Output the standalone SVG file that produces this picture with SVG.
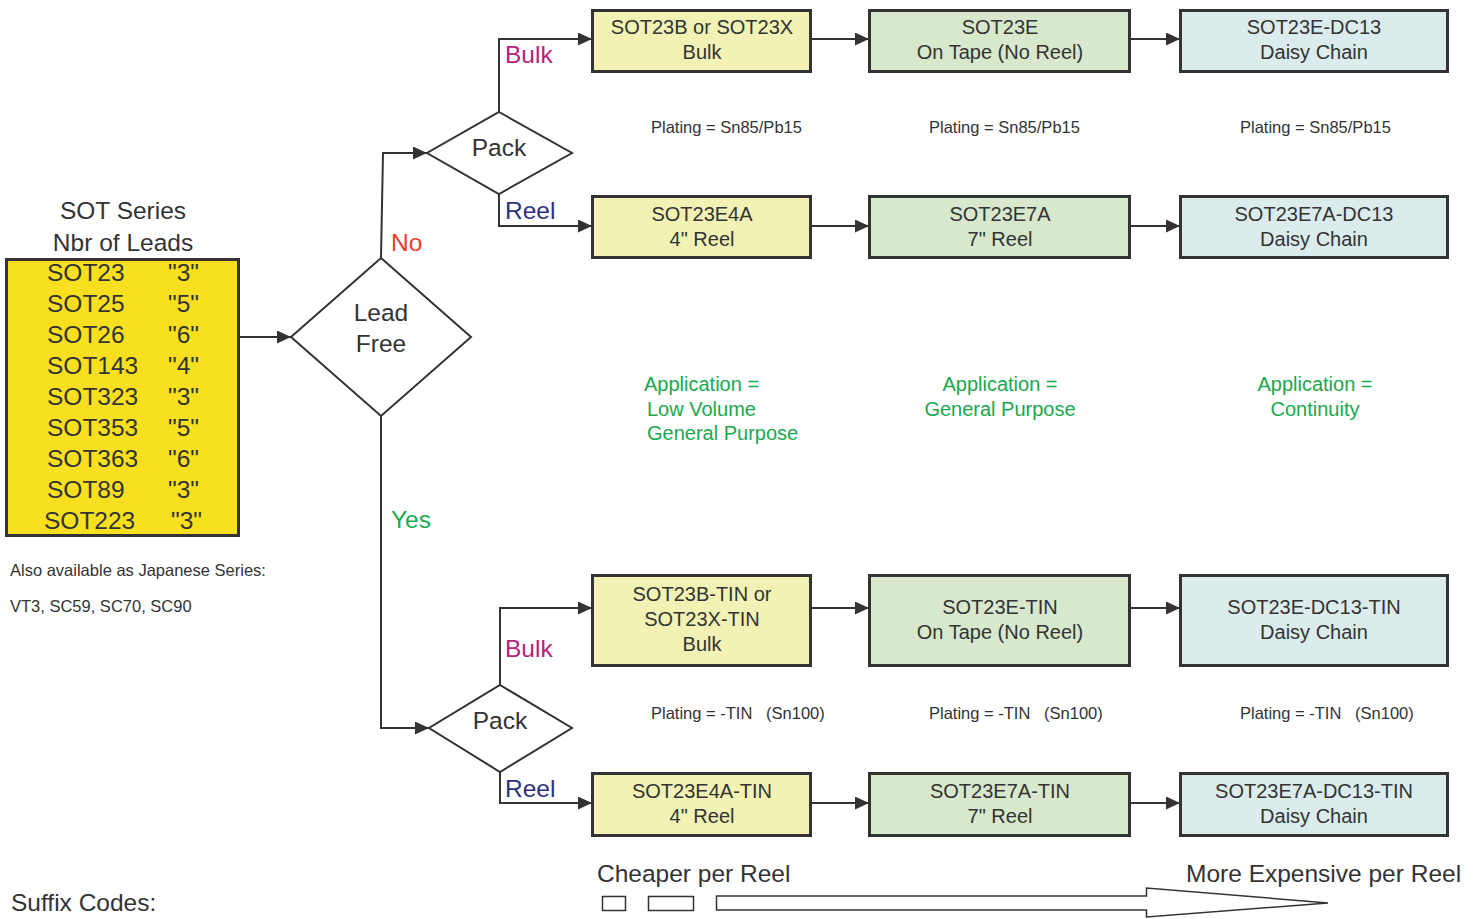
<svg xmlns="http://www.w3.org/2000/svg" width="1482" height="919" viewBox="0 0 1482 919">
<style>
text{font-family:"Liberation Sans",Arial,sans-serif;fill:#333;}
.big{font-size:24.5px;}
.bx{font-size:20px;text-anchor:middle;}
.sm{font-size:16.5px;white-space:pre;}
.app{font-size:20px;fill:#1aa84e;}
.c1{fill:#f1f2b4;stroke:#333;stroke-width:3;}
.c2{fill:#d8e8cc;stroke:#333;stroke-width:3;}
.c3{fill:#dcecec;stroke:#333;stroke-width:3;}
.dia{fill:#fff;stroke:#333;stroke-width:2;}
.ln{fill:none;stroke:#333;stroke-width:2;}
.la{fill:none;stroke:#333;stroke-width:2;marker-end:url(#ah);}
.bulk{fill:#b5237a;}
.reel{fill:#2e3080;}
</style>
<defs>
<marker id="ah" markerUnits="userSpaceOnUse" markerWidth="14" markerHeight="13" refX="14" refY="6.5" orient="auto">
<path d="M0,0 L14,6.5 L0,13 z" fill="#333"/>
</marker>
</defs>

<g id="series">
<text class="big" x="123" y="219" text-anchor="middle">SOT Series</text>
<text class="big" x="123" y="251" text-anchor="middle">Nbr of Leads</text>
<rect x="6.5" y="259.5" width="232" height="276" fill="#f8e020" stroke="#333" stroke-width="3"/>
<text class="big" x="47" y="281">SOT23</text><text class="big" x="168" y="281">"3"</text>
<text class="big" x="47" y="312">SOT25</text><text class="big" x="168" y="312">"5"</text>
<text class="big" x="47" y="343">SOT26</text><text class="big" x="168" y="343">"6"</text>
<text class="big" x="47" y="374">SOT143</text><text class="big" x="168" y="374">"4"</text>
<text class="big" x="47" y="405">SOT323</text><text class="big" x="168" y="405">"3"</text>
<text class="big" x="47" y="436">SOT353</text><text class="big" x="168" y="436">"5"</text>
<text class="big" x="47" y="467">SOT363</text><text class="big" x="168" y="467">"6"</text>
<text class="big" x="47" y="498">SOT89</text><text class="big" x="168" y="498">"3"</text>
<text class="big" x="44" y="529">SOT223</text><text class="big" x="171" y="529">"3"</text>
</g>

<g id="japanese">
<text class="sm" x="10" y="576">Also available as Japanese Series:</text>
<text class="sm" x="10" y="612">VT3, SC59, SC70, SC90</text>
</g>

<g id="connectors">
<line class="la" x1="239" y1="337" x2="291" y2="337"/>
<polyline class="la" points="381,258 383,153 427,153"/>
<polyline class="la" points="499,112 499,39 592,39"/>
<polyline class="la" points="499,194 499,226 592,226"/>
<polyline class="la" points="381,416 381,728 429,728"/>
<polyline class="la" points="500,685 500,608 592,608"/>
<polyline class="la" points="500,772 500,803 592,803"/>
<line class="la" x1="811" y1="39" x2="869" y2="39"/>
<line class="la" x1="1130" y1="39" x2="1180" y2="39"/>
<line class="la" x1="811" y1="226" x2="869" y2="226"/>
<line class="la" x1="1130" y1="226" x2="1180" y2="226"/>
<line class="la" x1="811" y1="608" x2="869" y2="608"/>
<line class="la" x1="1130" y1="608" x2="1180" y2="608"/>
<line class="la" x1="811" y1="803" x2="869" y2="803"/>
<line class="la" x1="1130" y1="803" x2="1180" y2="803"/>
<text class="big" x="391" y="251" style="fill:#f03c2a">No</text>
<text class="big" x="391" y="528" style="fill:#1aab50">Yes</text>
<text class="big bulk" x="505" y="63">Bulk</text>
<text class="big reel" x="505" y="219">Reel</text>
<text class="big bulk" x="505" y="657">Bulk</text>
<text class="big reel" x="505" y="797">Reel</text>
</g>

<g id="leadfree">
<polygon class="dia" points="381,258 471,337 381,416 291,337"/>
<text class="big" x="381" y="321" text-anchor="middle">Lead</text>
<text class="big" x="381" y="352" text-anchor="middle">Free</text>
</g>

<g id="pack-top">
<polygon class="dia" points="499,112 572,153 499,194 427,153"/>
<text class="big" x="499" y="156" text-anchor="middle">Pack</text>
</g>

<g id="pack-bottom">
<polygon class="dia" points="500,685 572,728 500,772 429,728"/>
<text class="big" x="500" y="729" text-anchor="middle">Pack</text>
</g>

<g id="sot23b">
<rect class="c1" x="592.5" y="10.5" width="218" height="61"/>
<text class="bx" x="702" y="34">SOT23B or SOT23X</text>
<text class="bx" x="702" y="59">Bulk</text>
</g>
<g id="sot23e">
<rect class="c2" x="869.5" y="10.5" width="260" height="61"/>
<text class="bx" x="1000" y="34">SOT23E</text>
<text class="bx" x="1000" y="59">On Tape (No Reel)</text>
</g>
<g id="sot23e-dc13">
<rect class="c3" x="1180.5" y="10.5" width="267" height="61"/>
<text class="bx" x="1314" y="34">SOT23E-DC13</text>
<text class="bx" x="1314" y="59">Daisy Chain</text>
</g>

<g id="sot23e4a">
<rect class="c1" x="592.5" y="196.5" width="218" height="61"/>
<text class="bx" x="702" y="221">SOT23E4A</text>
<text class="bx" x="702" y="246">4" Reel</text>
</g>
<g id="sot23e7a">
<rect class="c2" x="869.5" y="196.5" width="260" height="61"/>
<text class="bx" x="1000" y="221">SOT23E7A</text>
<text class="bx" x="1000" y="246">7" Reel</text>
</g>
<g id="sot23e7a-dc13">
<rect class="c3" x="1180.5" y="196.5" width="267" height="61"/>
<text class="bx" x="1314" y="221">SOT23E7A-DC13</text>
<text class="bx" x="1314" y="246">Daisy Chain</text>
</g>

<g id="sot23b-tin">
<rect class="c1" x="592.5" y="575.5" width="218" height="90"/>
<text class="bx" x="702" y="601">SOT23B-TIN or</text>
<text class="bx" x="702" y="626">SOT23X-TIN</text>
<text class="bx" x="702" y="651">Bulk</text>
</g>
<g id="sot23e-tin">
<rect class="c2" x="869.5" y="575.5" width="260" height="90"/>
<text class="bx" x="1000" y="614">SOT23E-TIN</text>
<text class="bx" x="1000" y="639">On Tape (No Reel)</text>
</g>
<g id="sot23e-dc13-tin">
<rect class="c3" x="1180.5" y="575.5" width="267" height="90"/>
<text class="bx" x="1314" y="614">SOT23E-DC13-TIN</text>
<text class="bx" x="1314" y="639">Daisy Chain</text>
</g>

<g id="sot23e4a-tin">
<rect class="c1" x="592.5" y="773.5" width="218" height="62"/>
<text class="bx" x="702" y="798">SOT23E4A-TIN</text>
<text class="bx" x="702" y="823">4" Reel</text>
</g>
<g id="sot23e7a-tin">
<rect class="c2" x="869.5" y="773.5" width="260" height="62"/>
<text class="bx" x="1000" y="798">SOT23E7A-TIN</text>
<text class="bx" x="1000" y="823">7" Reel</text>
</g>
<g id="sot23e7a-dc13-tin">
<rect class="c3" x="1180.5" y="773.5" width="267" height="62"/>
<text class="bx" x="1314" y="798">SOT23E7A-DC13-TIN</text>
<text class="bx" x="1314" y="823">Daisy Chain</text>
</g>

<g id="plating">
<text class="sm" x="651" y="133">Plating = Sn85/Pb15</text>
<text class="sm" x="929" y="133">Plating = Sn85/Pb15</text>
<text class="sm" x="1240" y="133">Plating = Sn85/Pb15</text>
<text class="sm" x="651" y="719">Plating = -TIN   (Sn100)</text>
<text class="sm" x="929" y="719">Plating = -TIN   (Sn100)</text>
<text class="sm" x="1240" y="719">Plating = -TIN   (Sn100)</text>
</g>

<g id="application">
<text class="app" x="644" y="391">Application =</text>
<text class="app" x="647" y="416">Low Volume</text>
<text class="app" x="647" y="440">General Purpose</text>
<text class="app" x="1000" y="391" text-anchor="middle">Application =</text>
<text class="app" x="1000" y="416" text-anchor="middle">General Purpose</text>
<text class="app" x="1315" y="391" text-anchor="middle">Application =</text>
<text class="app" x="1315" y="416" text-anchor="middle">Continuity</text>
</g>

<g id="legend">
<text class="big" x="11" y="911">Suffix Codes:</text>
<text class="big" x="597" y="882">Cheaper per Reel</text>
<text class="big" x="1186" y="882">More Expensive per Reel</text>
<rect x="602.5" y="896.5" width="23" height="14" fill="#fff" stroke="#333" stroke-width="1.5"/>
<rect x="648.5" y="896.5" width="45" height="14" fill="#fff" stroke="#333" stroke-width="1.5"/>
<polygon points="716.5,896 1146.5,896 1146.5,888 1328,903 1146.5,917 1146.5,910 716.5,910" fill="#fff" stroke="#333" stroke-width="1.5"/>
</g>
</svg>
